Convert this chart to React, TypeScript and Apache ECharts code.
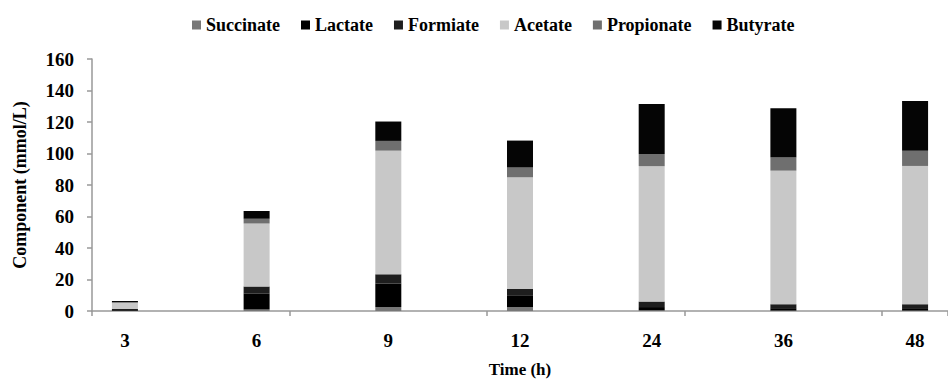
import React, { useEffect, useRef } from "react";
import * as echarts from "echarts";

const categories = ["3", "6", "9", "12", "24", "36", "48"];
const seriesNames = ["Succinate", "Lactate", "Formiate", "Acetate", "Propionate", "Butyrate"];
const succinate = [0.2, 1.0, 2.5, 2.5, 0.5, 0.3, 0.3];
const lactate = [0.5, 10.0, 15.0, 7.5, 2.0, 1.5, 1.5];
const formiate = [0.5, 4.5, 5.8, 4.0, 3.5, 2.5, 2.5];
const acetate = [4.0, 40.0, 78.5, 70.9, 86.0, 84.8, 87.8];
const propionate = [0.3, 3.0, 6.2, 6.2, 7.7, 8.3, 9.6];
const butyrate = [0.8, 5.0, 12.3, 17.1, 31.8, 31.4, 31.7];
const yTicks = { min: 0, max: 160, interval: 20 };

const colors = ["#777777", "#000000", "#1e1e1e", "#c8c8c8", "#6f6f6f", "#050505"];
const FONT = "Liberation Serif";

function expand<T>(arr: T[], blank: T): T[] {
  const out: T[] = [];
  arr.forEach((v, i) => {
    out.push(v);
    if (i < arr.length - 1) out.push(blank);
  });
  return out;
}

export default function App() {
  const ref = useRef<HTMLDivElement>(null);
  useEffect(() => {
    if (!ref.current) return;
    const chart = echarts.init(ref.current, undefined, { renderer: "svg" });
    const values = [succinate, lactate, formiate, acetate, propionate, butyrate];
    chart.setOption({
      animation: false,
      backgroundColor: "#ffffff",
      textStyle: { fontFamily: FONT },
      legend: {
        left: 187,
        top: 11,
        itemWidth: 9,
        itemHeight: 9,
        itemGap: 21,
        icon: "rect",
        textStyle: { fontFamily: FONT, fontSize: 18, fontWeight: "bold", color: "#000" },
        data: seriesNames,
      },
      grid: { left: 92, right: -13, top: 59, bottom: 78 },
      xAxis: {
        type: "category",
        data: expand(categories, ""),
        name: "Time (h)",
        nameLocation: "middle",
        nameGap: 50,
        nameTextStyle: { fontFamily: FONT, fontSize: 17, fontWeight: "bold", color: "#000" },
        axisLine: { lineStyle: { color: "#999", width: 1.5 } },
        axisTick: { show: true, interval: 2, length: 5, lineStyle: { color: "#999", width: 1.5 } },
        axisLabel: {
          interval: 0,
          margin: 20,
          fontFamily: FONT,
          fontSize: 19,
          fontWeight: "bold",
          color: "#000",
        },
        splitLine: { show: false },
      },
      yAxis: {
        type: "value",
        min: yTicks.min,
        max: yTicks.max,
        interval: yTicks.interval,
        name: "Component (mmol/L)",
        nameLocation: "middle",
        nameGap: 63,
        nameTextStyle: { fontFamily: FONT, fontSize: 18, fontWeight: "bold", color: "#000" },
        axisLine: { show: true, lineStyle: { color: "#999", width: 1.5 } },
        axisTick: { show: true, length: 5, lineStyle: { color: "#999", width: 1.5 } },
        axisLabel: {
          margin: 18,
          fontFamily: FONT,
          fontSize: 19,
          fontWeight: "bold",
          color: "#000",
        },
        splitLine: { show: false },
      },
      series: seriesNames.map((name, i) => ({
        name,
        type: "bar",
        stack: "total",
        barWidth: 26,
        itemStyle: { color: colors[i] },
        data: expand(values[i] as (number | null)[], null),
      })),
    });
    return () => chart.dispose();
  }, []);
  return (
    <div
      ref={ref}
      style={{ position: "absolute", left: 0, top: 0, width: 948, height: 389 }}
    />
  );
}
